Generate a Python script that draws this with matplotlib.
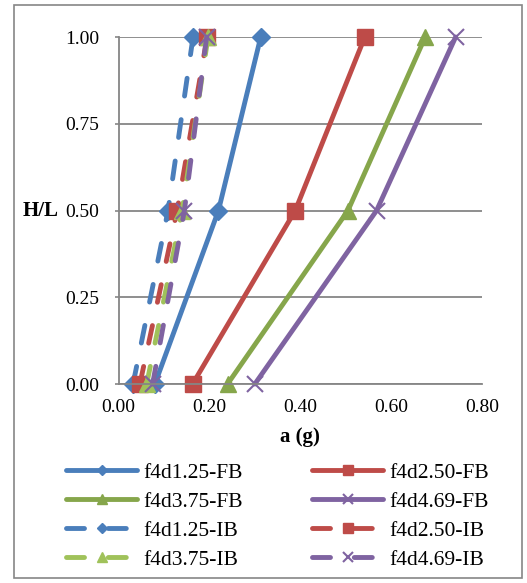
import matplotlib
matplotlib.use("Agg")
import matplotlib.pyplot as plt
from matplotlib.patches import Rectangle

plt.rcParams['font.family'] = ['Liberation Serif', 'DejaVu Serif']

# height ratio along the wall
heights = [0.0, 0.5, 1.0]

# peak acceleration (g), fixed base
fb_125 = [0.080, 0.220, 0.313]
fb_250 = [0.163, 0.389, 0.542]
fb_375 = [0.240, 0.505, 0.675]
fb_469 = [0.300, 0.568, 0.742]

# peak acceleration (g), isolated base
ib_125 = [0.032, 0.109, 0.164]
ib_250 = [0.047, 0.129, 0.195]
ib_375 = [0.062, 0.140, 0.197]
ib_469 = [0.075, 0.145, 0.194]

labels_fb = ['f4d1.25-FB', 'f4d2.50-FB', 'f4d3.75-FB', 'f4d4.69-FB']
labels_ib = ['f4d1.25-IB', 'f4d2.50-IB', 'f4d3.75-IB', 'f4d4.69-IB']

y_ticks = [0.0, 0.25, 0.5, 0.75, 1.0]
x_ticks = [0.0, 0.2, 0.4, 0.6, 0.8]

blue = '#4A7EBB'
red = '#BE4B48'
green_fb = '#86A64B'
green_ib = '#A0C25A'
purple = '#7F63A1'

fig = plt.figure(figsize=(5.27, 5.83), dpi=100)
ax = fig.add_axes([0.2249, 0.3413, 0.6897, 0.5952])

fb_styles = [
    (fb_125, blue, 'D', 9, labels_fb[0]),
    (fb_250, red, 's', 12, labels_fb[1]),
    (fb_375, green_fb, '^', 12, labels_fb[2]),
    (fb_469, purple, 'x', 12, labels_fb[3]),
]
ib_styles = [
    (ib_125, blue, 'D', 9, labels_ib[0]),
    (ib_250, red, 's', 12, labels_ib[1]),
    (ib_375, green_ib, '^', 12, labels_ib[2]),
    (ib_469, purple, 'x', 12, labels_ib[3]),
]

handles = {}
for vals, col, mk, ms, lab in fb_styles:
    h, = ax.plot(vals, heights, color=col, lw=3.5, marker=mk, markersize=ms,
                 markeredgewidth=1.5 if mk == 'x' else 1.0,
                 markeredgecolor=col, label=lab, solid_capstyle='round')
    handles[lab] = h
for vals, col, mk, ms, lab in ib_styles:
    h, = ax.plot(vals, heights, color=col, lw=3.5, marker=mk, markersize=ms,
                 markeredgewidth=1.5 if mk == 'x' else 1.0,
                 markeredgecolor=col, label=lab, dashes=(3.7, 4.9),
                 dash_capstyle='round')
    handles[lab] = h

ax.set_xlim(0, 0.8)
ax.set_ylim(0, 1.0)
ax.set_xticks(x_ticks)
ax.set_yticks(y_ticks)
ax.set_xticklabels([f'{v:.2f}' for v in x_ticks], fontsize=14)
ax.set_yticklabels([f'{v:.2f}' for v in y_ticks], fontsize=14)
ax.tick_params(axis='y', length=3, width=1.2, color='#868686', pad=11)
ax.tick_params(axis='x', length=0, pad=11)
ax.yaxis.grid(True, color='#868686', lw=1.3)
ax.set_axisbelow(True)
for s in ['top', 'right']:
    ax.spines[s].set_visible(False)
for s in ['left', 'bottom']:
    ax.spines[s].set_color('#868686')
    ax.spines[s].set_linewidth(1.3)
for line in ax.lines:
    line.set_clip_on(False)

ax.set_xlabel('a (g)', fontsize=15, fontweight='bold', labelpad=8)
fig.text(0.043, 0.3413 + 0.5952 * 0.5, 'H/L', fontsize=15, fontweight='bold',
         ha='left', va='center')

# legend rows: FB pairs first, then IB pairs (two columns)
order = ['f4d1.25-FB', 'f4d3.75-FB', 'f4d1.25-IB', 'f4d3.75-IB',
         'f4d2.50-FB', 'f4d4.69-FB', 'f4d2.50-IB', 'f4d4.69-IB']
fig.legend([handles[k] for k in order], order, loc='center',
           bbox_to_anchor=(0.527, 0.1145), ncol=2, frameon=False,
           fontsize=15.5, handlelength=3.3, handletextpad=0.3,
           columnspacing=3.2, labelspacing=0.42, markerscale=0.6)

fig.patches.append(Rectangle((14 / 527, 5 / 583), 508 / 527, 573 / 583,
                             transform=fig.transFigure, fill=False,
                             edgecolor='#868686', lw=1.2))

fig.savefig('out.png', dpi=100)
